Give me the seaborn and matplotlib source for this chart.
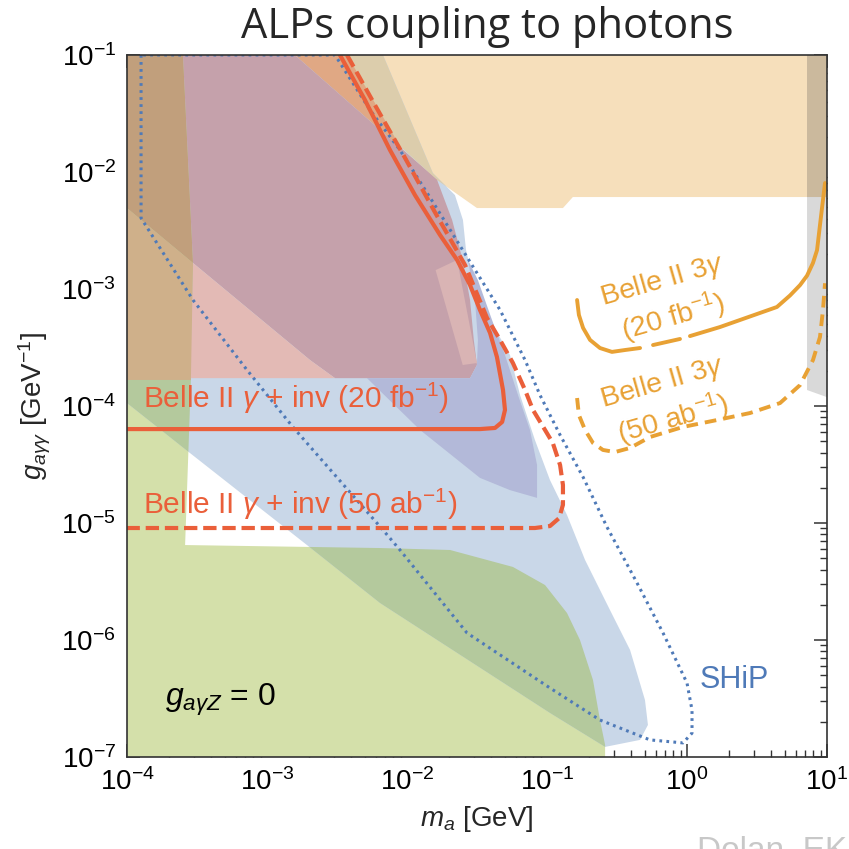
import numpy as np
import pandas as pd
import matplotlib
matplotlib.use("Agg")
import matplotlib.pyplot as plt
import matplotlib.ticker as mticker
import seaborn as sns

# ---------------- data (m_a [GeV], g [GeV^-1]) ----------------
green_m = [1e-4, 2.51e-4, 2.96e-4, 2.86e-4, 2.6e-4, 6.42e-3, 2.03e-2, 5.71e-2, 9.68e-2, 0.139, 0.172, 0.213, 0.239, 0.26, 0.26, 1e-4]
green_g = [0.1, 0.1, 1.67e-3, 1.67e-4, 6.48e-6, 6.11e-6, 5.88e-6, 4.21e-6, 2.95e-6, 1.7e-6, 1e-6, 4.55e-7, 2.07e-7, 1.27e-7, 1e-7, 1e-7]

tan_m = [1.72e-3, 10, 10, 0.153, 0.130, 3.16e-2, 1.64e-2]
tan_g = [0.1, 0.1, 6.11e-3, 6.11e-3, 4.92e-3, 4.92e-3, 8.55e-3]

blue_m = [1e-4, 6.74e-3, 1.53e-2, 2.2e-2, 2.51e-2, 2.64e-2, 2.91e-2, 3.92e-2, 5.44e-2, 6.42e-2, 8.2e-2, 0.105, 0.139,
          0.187, 0.282, 0.392, 0.501, 0.526, 0.462, 0.26, 0.105, 6.42e-3, 1.93e-3, 2.82e-4, 1e-4]
blue_g = [0.1, 0.1, 9.8e-3, 6.35e-3, 3.89e-3, 2.15e-3, 1.32e-3, 5.43e-4, 2.73e-4, 1.24e-4, 5.12e-5, 2.33e-5, 1.17e-5,
          4.83e-6, 1.8e-6, 8.22e-7, 3.07e-7, 1.88e-7, 1.40e-7, 1.22e-7, 2.38e-7, 2.07e-6, 6.48e-6, 3.96e-5, 1.06e-4]

mauve_m = [2.51e-4, 1.58e-3, 1.64e-2, 2.1e-2, 2.5e-2, 2.82e-2, 3.0e-2, 3.16e-2, 2.82e-2, 3.06e-3, 2.03e-3, 2.96e-4]
mauve_g = [0.1, 0.1, 8.55e-3, 3.89e-3, 1.77e-3, 8.05e-4, 3.67e-4, 2.24e-4, 1.73e-4, 1.73e-4, 2.47e-4, 1.67e-3]

pink_m = [2.82e-4, 2.96e-4, 2.03e-3, 3.06e-3]
pink_g = [1.73e-4, 1.67e-3, 2.47e-4, 1.73e-4]

lpink_m = [1.6e-2, 2.28e-2, 3.16e-2, 2.5e-2]
lpink_g = [1.45e-3, 1.77e-3, 2.33e-4, 2.24e-4]

dbrown_m = [1e-4, 2.51e-4, 2.96e-4, 1e-4]
dbrown_g = [0.1, 0.1, 1.67e-3, 4.92e-3]

lbrown_m = [1e-4, 2.96e-4, 2.86e-4, 1e-4]
lbrown_g = [4.92e-3, 1.67e-3, 1.67e-4, 1.67e-4]

orange_m = [1.58e-3, 3.73e-3, 1.64e-2, 1.64e-2]
orange_g = [0.1, 0.1, 4.73e-3, 8.55e-3]

purple_m = [5.18e-3, 2.82e-2, 3.16e-2, 3.21e-2, 3.06e-2, 2.73e-2, 3.21e-2, 4.05e-2, 5.01e-2, 6.21e-2, 7.56e-2,
            8.49e-2, 8.49e-2, 5.44e-2, 3.32e-2, 1.24e-2]
purple_g = [1.73e-4, 1.73e-4, 2.24e-4, 3.67e-4, 8.05e-4, 1.77e-3, 1.19e-3, 5.43e-4, 2.73e-4, 1.24e-4, 6.24e-5,
            3.13e-5, 1.64e-5, 1.91e-5, 2.43e-5, 6.24e-5]

gray_m = [7.2, 10, 10, 7.2]
gray_g = [0.1, 0.1, 1.19e-4, 1.37e-4]

ship_m = [1.26e-4, 1.26e-4, 2.96e-4, 7.2e-4, 1.53e-3, 6.74e-3, 8.91e-3, 2.68e-2, 0.105, 0.239, 0.544, 0.936, 1.086,
          1.086, 1.0, 0.674, 0.44, 0.268, 0.181, 0.124, 8.91e-2, 6.97e-2, 4.62e-2, 2.68e-2, 1.53e-2, 8.91e-3,
          5.44e-3, 3.06e-3, 1.26e-4]
ship_g = [0.1, 4.04e-3, 8.05e-4, 2.03e-4, 6.62e-5, 8.71e-6, 5.88e-6, 1.15e-6, 3.89e-7, 2.07e-7, 1.40e-7, 1.32e-7, 1.6e-7,
          2.52e-7, 4.29e-7, 1.15e-6, 3.07e-6, 9.25e-6, 2.47e-5, 5.65e-5, 1.24e-4, 2.47e-4, 6.62e-4, 1.88e-3, 5.54e-3,
          1.54e-2, 3.39e-2, 0.1, 0.1]

inv20_m = [3.32e-3, 5.01e-3, 7.56e-3, 1.14e-2, 1.72e-2, 2.28e-2, 2.82e-2, 3.32e-2, 3.92e-2, 4.39e-2, 4.85e-2, 5.01e-2,
           4.78e-2, 4.25e-2, 3.32e-2, 1e-4]
inv20_g = [0.1, 4.12e-2, 1.54e-2, 6.35e-3, 2.9e-3, 1.77e-3, 1.08e-3, 6.62e-4, 4.21e-4, 2.62e-4, 1.37e-4, 9.25e-5,
           7.3e-5, 6.49e-5, 6.35e-5, 6.35e-5]

inv50_m = [3.73e-3, 5.9e-3, 9.68e-3, 1.58e-2, 2.6e-2, 3.73e-2, 4.62e-2, 5.71e-2, 6.97e-2, 7.94e-2, 9.68e-2, 0.110,
           0.124, 0.130, 0.130, 0.122, 0.105, 8.2e-2, 1e-4]
inv50_g = [0.1, 3.74e-2, 1.32e-2, 4.55e-3, 1.6e-3, 5.65e-4, 3.67e-4, 2.33e-4, 1.37e-4, 9.25e-5, 6.24e-5, 4.83e-5,
           3.13e-5, 2.11e-5, 1.43e-5, 1.1e-5, 9.42e-6, 9.06e-6, 9.06e-6]

g3_20_m = [0.164, 0.169, 0.181, 0.203, 0.239, 0.291, 0.361, 0.462, 0.572, 0.891,
           1.05, 1.72, 3.32, 4.39, 5.44, 6.42, 7.2, 7.94, 8.49, 8.91, 9.36, 9.68]
g3_20_g = [8.05e-4, 6.0e-4, 4.65e-4, 3.67e-4, 3.13e-4, 2.9e-4, 3.01e-4, 3.13e-4, 3.32e-4, 3.74e-4,
           3.96e-4, 4.73e-4, 6.24e-4, 7.02e-4, 8.8e-4, 1.08e-3, 1.3e-3, 1.67e-3, 2.15e-3, 3.52e-3, 5.77e-3, 8.05e-3]
g3_20_seg = [0] * 8 + [1] * 2 + [2] * 12

g3_50_m = [0.164, 0.169, 0.187, 0.213, 0.251, 0.306, 0.392, 0.544, 0.936, 1.64, 2.82, 4.62, 6.42, 7.94, 8.91, 9.36, 9.68]
g3_50_g = [1.17e-4, 8.37e-5, 6.24e-5, 4.83e-5, 4.21e-5, 4.04e-5, 4.38e-5, 5.43e-5, 6.62e-5, 7.59e-5, 8.71e-5,
           1.06e-4, 1.51e-4, 2.47e-4, 3.89e-4, 6.62e-4, 1.12e-3]

# ---------------- style ----------------
sns.set_theme(style="ticks")
plt.rcParams["font.family"] = ["Liberation Sans", "DejaVu Sans"]
plt.rcParams["mathtext.fontset"] = "custom"
plt.rcParams["mathtext.rm"] = "Liberation Sans"
plt.rcParams["mathtext.it"] = "Liberation Sans:italic"
plt.rcParams["mathtext.bf"] = "Liberation Sans:bold"

RED = "#ea5f3a"
ORANGE = "#e8a134"
SHIPBLUE = "#4f7ab8"

fig = plt.figure(figsize=(8.49, 8.49), dpi=100)
ax = fig.add_axes([127 / 849, 1 - 757 / 849, 700 / 849, 702 / 849])
ax.set_xscale("log")
ax.set_yscale("log")
ax.set_xlim(1e-4, 10)
ax.set_ylim(1e-7, 1e-1)
ax.set_facecolor("white")

def poly(m, g, color, z):
    return ax.fill(m, g, color=color, lw=0, zorder=z)[0]

green_p = poly(green_m, green_g, "#d4e0aa", 1)
tan_p = poly(tan_m, tan_g, "#f6dfbb", 1)
blue_p = poly(blue_m, blue_g, "#c9d7e8", 1.1)
# overlaps
dg = poly(green_m, green_g, "#b4c99d", 1.2)
dg.set_clip_path(blue_p)
bt = poly(blue_m, blue_g, "#dccdac", 1.2)
bt.set_clip_path(tan_p)
poly(orange_m, orange_g, "#e0a884", 1.3)
poly(mauve_m, mauve_g, "#c5a1ab", 1.4)
poly(pink_m, pink_g, "#e3bab5", 1.4)
poly(lpink_m, lpink_g, "#d9b4b4", 1.5)
poly(dbrown_m, dbrown_g, "#c19f7c", 1.4)
poly(lbrown_m, lbrown_g, "#cfb08a", 1.4)
poly(purple_m, purple_g, "#b3b9d9", 1.5)
gray_p = poly(gray_m, gray_g, "#d9d9d9", 1.6)
gt = poly(gray_m, gray_g, "#cbb99d", 1.7)
gt.set_clip_path(tan_p)

# ---------------- lines ----------------
sns.lineplot(x=ship_m, y=ship_g, sort=False, estimator=None, ax=ax, color=SHIPBLUE, lw=2.2,
             linestyle=(0, (0.9, 1.4)), zorder=3)
sns.lineplot(x=inv20_m, y=inv20_g, sort=False, estimator=None, ax=ax, color=RED, lw=3.0, zorder=4)
sns.lineplot(x=inv50_m, y=inv50_g, sort=False, estimator=None, ax=ax, color=RED, lw=3.0,
             linestyle=(0, (3.2, 1.4)), zorder=4)
df20 = pd.DataFrame({"m": g3_20_m, "g": g3_20_g, "seg": g3_20_seg})
sns.lineplot(data=df20, x="m", y="g", units="seg", sort=False, estimator=None, ax=ax, color=ORANGE, lw=2.8, zorder=4)
sns.lineplot(x=g3_50_m, y=g3_50_g, sort=False, estimator=None, ax=ax, color=ORANGE, lw=2.8,
             linestyle=(0, (3.0, 1.8)), zorder=4)

# ---------------- texts ----------------
ax.text(1.3e-4, 1.17e-4, r"Belle II $\gamma$ + inv (20 fb$^{-1}$)", color=RED, fontsize=21.5,
        ha="left", va="center", zorder=5)
ax.text(1.3e-4, 1.43e-5, r"Belle II $\gamma$ + inv (50 ab$^{-1}$)", color=RED, fontsize=21.5,
        ha="left", va="center", zorder=5)
ax.text(0.731, 8.05e-4, "Belle II 3$\\gamma$\n(20 fb$^{-1}$)", color=ORANGE, fontsize=20.5, rotation=16,
        ha="center", va="center", multialignment="center", rotation_mode="anchor", zorder=5)
ax.text(0.731, 1.08e-4, "Belle II 3$\\gamma$\n(50 ab$^{-1}$)", color=ORANGE, fontsize=20.5, rotation=16,
        ha="center", va="center", multialignment="center", rotation_mode="anchor", zorder=5)
ax.text(1.24, 4.55e-7, "SHiP", color=SHIPBLUE, fontsize=22, ha="left", va="center", zorder=5)
ax.text(1.87e-4, 3.07e-7, r"$g_{a\gamma Z}$ = 0", color="black", fontsize=23, ha="left", va="center", zorder=5)

# ---------------- axes ----------------
ax.xaxis.set_major_locator(mticker.LogLocator(base=10, numticks=20))
ax.yaxis.set_major_locator(mticker.LogLocator(base=10, numticks=20))
ax.xaxis.set_minor_locator(mticker.LogLocator(base=10, subs=np.arange(2, 10), numticks=100))
ax.yaxis.set_minor_locator(mticker.LogLocator(base=10, subs=np.arange(2, 10), numticks=100))
ax.xaxis.set_minor_formatter(mticker.NullFormatter())
ax.yaxis.set_minor_formatter(mticker.NullFormatter())
ax.tick_params(which="both", direction="in", top=True, right=True, colors="#333333", labelcolor="black")
ax.tick_params(which="major", length=9.5, width=1.1, labelsize=20, pad=8)
ax.tick_params(which="minor", length=5, width=1.0)
for s in ax.spines.values():
    s.set_color("#333333")
    s.set_linewidth(1.2)
    s.set_zorder(6)

ax.set_xlabel(r"$m_a$ [GeV]", fontsize=20, labelpad=6)
ax.set_ylabel(r"$g_{a\gamma\gamma}$ [GeV$^{-1}$]", fontsize=20, labelpad=6)

fig.text(487 / 849, 1 - 27 / 849, "ALPs coupling to photons", fontsize=30, family="Open Sans",
         ha="center", va="center")
fig.text(697 / 849, 13 / 849, "Dolan, EK", fontsize=24, color="#c8c8c8", ha="left", va="top")

fig.savefig("out.png", dpi=100)
